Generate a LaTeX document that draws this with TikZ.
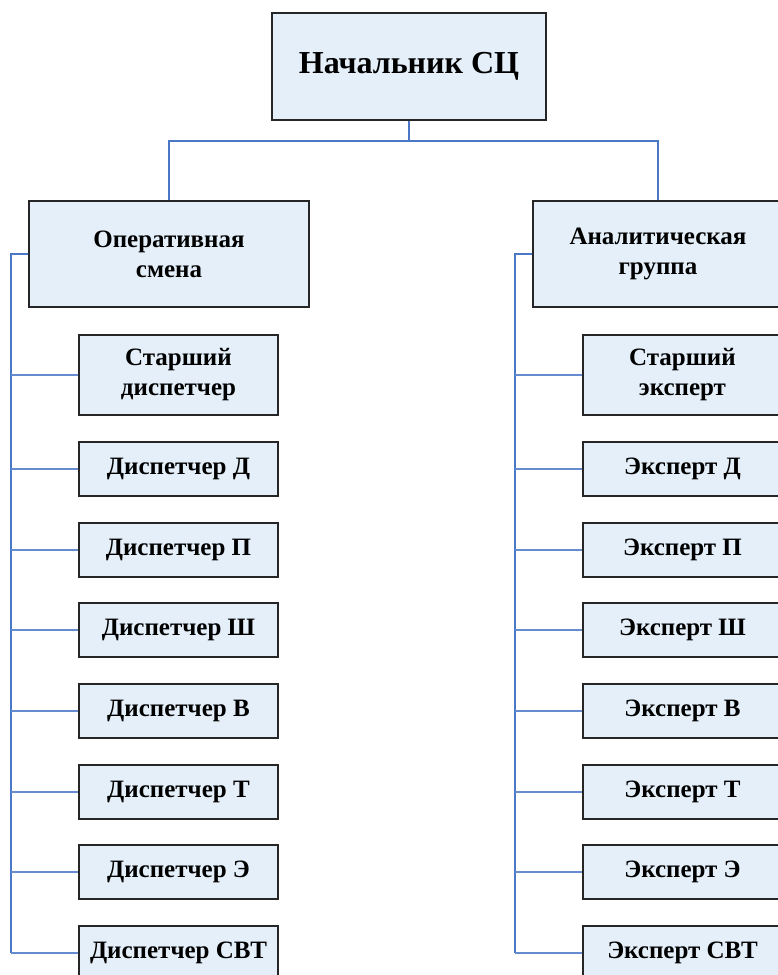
\documentclass[tikz,border=0pt]{standalone}
\usepackage{fontspec}
\setmainfont{Liberation Serif}
\begin{document}
\begin{tikzpicture}[x=1pt,y=-1pt,
  box/.style={draw=boxline,line width=1.3pt,fill=boxfill,inner sep=0pt,align=center,
    font=\fontsize{25}{30}\selectfont\bfseries},
  child/.style={box,minimum width=199pt,minimum height=54pt},
  bus/.style={draw=busblue,line width=1.8pt},
  branch/.style={draw=busblue!85,line width=1.1pt}]
\definecolor{boxfill}{HTML}{E4EFF9}
\definecolor{boxline}{HTML}{262626}
\definecolor{busblue}{HTML}{4A78C6}
\useasboundingbox (0,0) rectangle (778,975);
\clip (0,0) rectangle (778,975);
% top
\node[box,minimum width=274pt,minimum height=107pt,font=\fontsize{32}{38}\selectfont\bfseries] (top) at (409,66.5) {Начальник СЦ};
% parents
\node[box,minimum width=280pt,minimum height=106pt] (op) at (169,254) {Оперативная\\смена};
\node[box,minimum width=250pt,minimum height=106pt] (an) at (658,254) {Аналитическая\\группа};
\draw[bus] (top.south) -- ++(0,20) coordinate (j) -| (op.north);
\draw[bus] (j) -| (an.north);
% left children
\node[child,minimum height=80pt] (l1) at (178.5,375) {Старший\\диспетчер};
\node[child] (l2) at (178.5,469) {Диспетчер Д};
\node[child] (l3) at (178.5,550) {Диспетчер П};
\node[child] (l4) at (178.5,630) {Диспетчер Ш};
\node[child] (l5) at (178.5,711) {Диспетчер В};
\node[child] (l6) at (178.5,792) {Диспетчер Т};
\node[child] (l7) at (178.5,872) {Диспетчер Э};
\node[child] (l8) at (178.5,953) {Диспетчер СВТ};
% right children
\node[child,minimum height=80pt] (r1) at (682.5,375) {Старший\\эксперт};
\node[child] (r2) at (682.5,469) {Эксперт Д};
\node[child] (r3) at (682.5,550) {Эксперт П};
\node[child] (r4) at (682.5,630) {Эксперт Ш};
\node[child] (r5) at (682.5,711) {Эксперт В};
\node[child] (r6) at (682.5,792) {Эксперт Т};
\node[child] (r7) at (682.5,872) {Эксперт Э};
\node[child] (r8) at (682.5,953) {Эксперт СВТ};
% buses
\coordinate (lb) at (11,0);
\coordinate (rb) at (515,0);
\draw[bus] (op.west) -- (op.west -| lb) -- (lb |- l8.west);
\draw[bus] (an.west) -- (an.west -| rb) -- (rb |- r8.west);
\foreach \i in {1,...,8}{
  \draw[branch] (lb |- l\i.west) -- (l\i.west);
  \draw[branch] (rb |- r\i.west) -- (r\i.west);
}
\end{tikzpicture}
\end{document}
